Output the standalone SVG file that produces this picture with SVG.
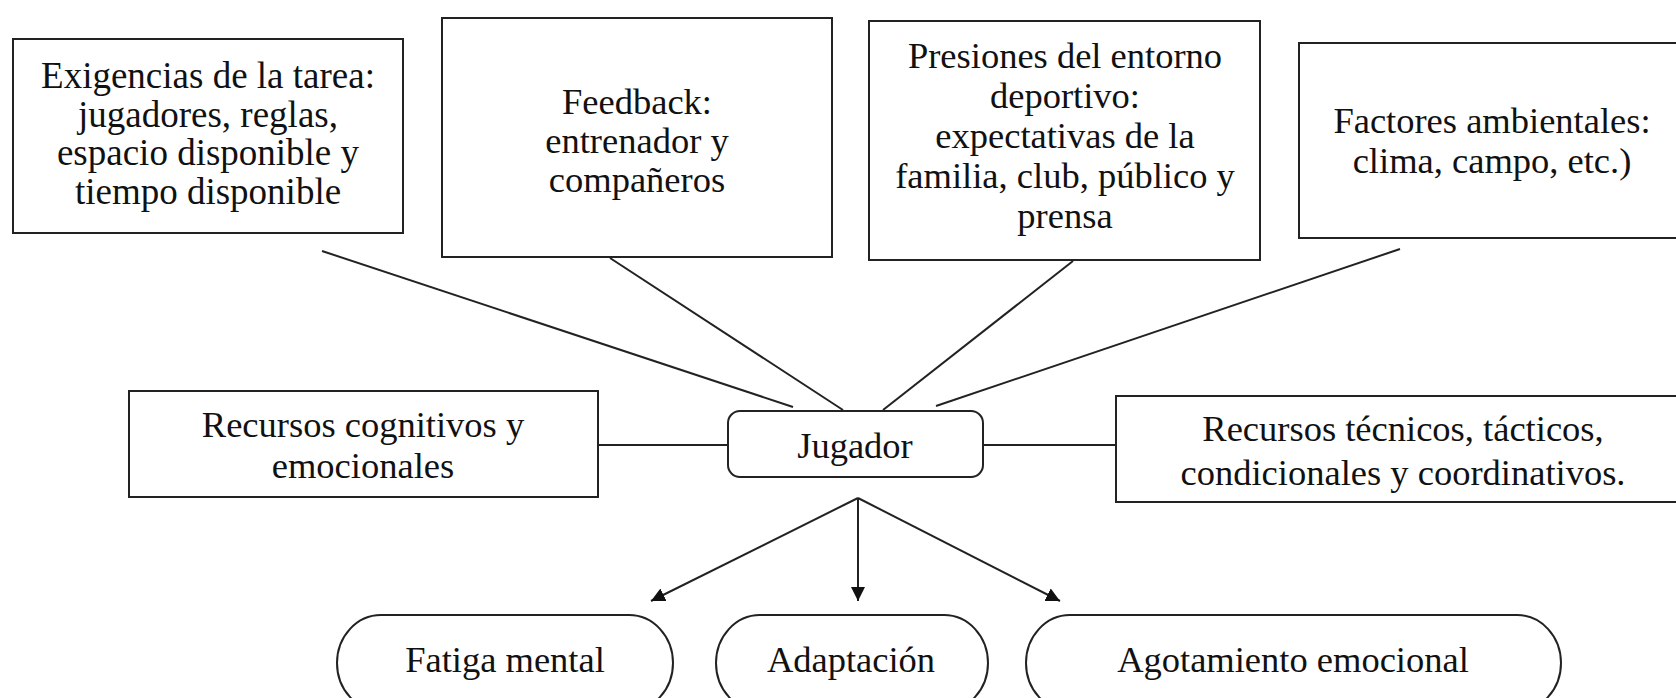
<svg xmlns="http://www.w3.org/2000/svg" width="1676" height="698" viewBox="0 0 1676 698">
<style>
  .box { fill: #ffffff; stroke: #222222; stroke-width: 2; }
  .lbl { font-family: "Liberation Serif", "Times New Roman", serif; font-size: 36.5px; fill: #111111; text-anchor: middle; }
  .con { stroke: #222222; stroke-width: 2; fill: none; }
</style>
<defs>
  <marker id="arr" viewBox="0 0 10 10" refX="10" refY="5" markerWidth="14" markerHeight="14" markerUnits="userSpaceOnUse" orient="auto">
    <path d="M0,0 L10,5 L0,10 z" fill="#111111"/>
  </marker>
</defs>
<rect width="1676" height="698" fill="#ffffff"/>

<g id="connectors">
  <line class="con" x1="322" y1="251" x2="793" y2="407"/>
  <line class="con" x1="610" y1="258" x2="843" y2="410"/>
  <line class="con" x1="1073" y1="261" x2="883" y2="410"/>
  <line class="con" x1="1400" y1="249" x2="936" y2="406"/>
  <line class="con" x1="598" y1="445" x2="728" y2="445"/>
  <line class="con" x1="983" y1="445" x2="1116" y2="445"/>
  <line class="con" x1="858" y1="498" x2="651" y2="601" marker-end="url(#arr)"/>
  <line class="con" x1="858" y1="498" x2="858" y2="601" marker-end="url(#arr)"/>
  <line class="con" x1="858" y1="498" x2="1060" y2="601" marker-end="url(#arr)"/>
</g>

<g id="exigencias">
  <rect class="box" x="13" y="39" width="390" height="194"/>
  <text class="lbl" x="208" y="88" style="font-size:37px">Exigencias de la tarea:</text>
  <text class="lbl" x="208" y="126.5" style="font-size:37px">jugadores, reglas,</text>
  <text class="lbl" x="208" y="165" style="font-size:37px">espacio disponible y</text>
  <text class="lbl" x="208" y="203.5" style="font-size:37px">tiempo disponible</text>
</g>

<g id="feedback">
  <rect class="box" x="442" y="18" width="390" height="239"/>
  <text class="lbl" x="637" y="114">Feedback:</text>
  <text class="lbl" x="637" y="153">entrenador y</text>
  <text class="lbl" x="637" y="192">compañeros</text>
</g>

<g id="presiones">
  <rect class="box" x="869" y="21" width="391" height="239"/>
  <text class="lbl" x="1065" y="68">Presiones del entorno</text>
  <text class="lbl" x="1065" y="108">deportivo:</text>
  <text class="lbl" x="1065" y="148">expectativas de la</text>
  <text class="lbl" x="1065" y="188">familia, club, público y</text>
  <text class="lbl" x="1065" y="228">prensa</text>
</g>

<g id="factores">
  <rect class="box" x="1299" y="43" width="390" height="195"/>
  <text class="lbl" x="1492" y="133">Factores ambientales:</text>
  <text class="lbl" x="1492" y="173">clima, campo, etc.)</text>
</g>

<g id="recursos-cognitivos">
  <rect class="box" x="129" y="391" width="469" height="106"/>
  <text class="lbl" x="363" y="437">Recursos cognitivos y</text>
  <text class="lbl" x="363" y="478">emocionales</text>
</g>

<g id="jugador">
  <rect class="box" x="728" y="411" width="255" height="66" rx="12" ry="12"/>
  <text class="lbl" x="855" y="458">Jugador</text>
</g>

<g id="recursos-tecnicos">
  <rect class="box" x="1116" y="396" width="574" height="106"/>
  <text class="lbl" x="1403" y="441">Recursos técnicos, tácticos,</text>
  <text class="lbl" x="1403" y="485">condicionales y coordinativos.</text>
</g>

<g id="fatiga">
  <rect class="box" x="337" y="615" width="336" height="96" rx="44" ry="48"/>
  <text class="lbl" x="505" y="672">Fatiga mental</text>
</g>

<g id="adaptacion">
  <rect class="box" x="716" y="615" width="272" height="96" rx="44" ry="48"/>
  <text class="lbl" x="851" y="672">Adaptación</text>
</g>

<g id="agotamiento">
  <rect class="box" x="1026" y="615" width="535" height="96" rx="44" ry="48"/>
  <text class="lbl" x="1293" y="672">Agotamiento emocional</text>
</g>
</svg>
